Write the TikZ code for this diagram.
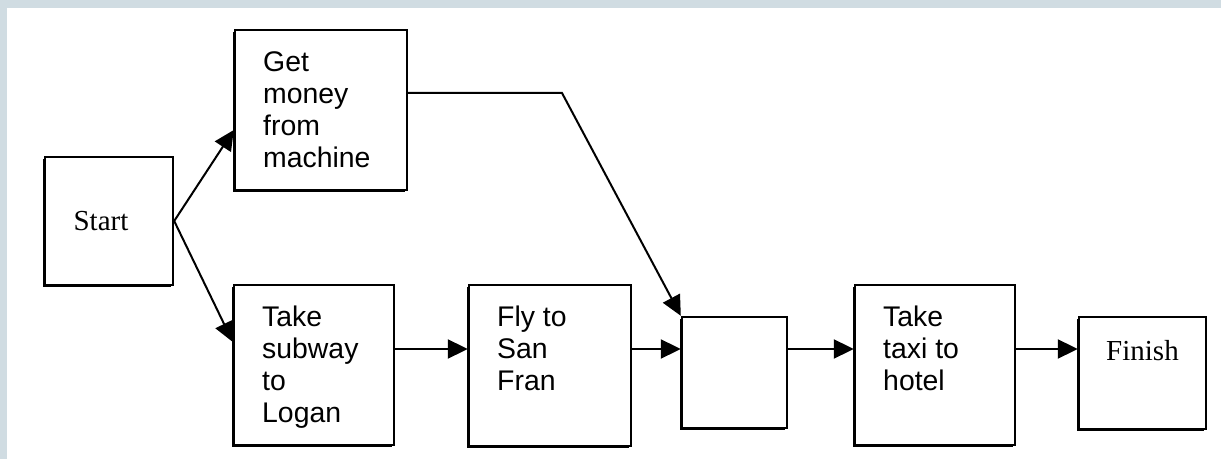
\documentclass[tikz,border=0pt]{standalone}
\usepackage{fontspec}
\setmainfont{Liberation Serif}
\setsansfont{Liberation Sans}
\usetikzlibrary{arrows.meta,shadows,calc,positioning}

\definecolor{framegray}{RGB}{208,220,226}

\tikzset{
  stepbox/.style={draw, line width=1.2pt, fill=white, inner sep=0pt,
    general shadow={fill=black, shadow xshift=-0.9pt, shadow yshift=-0.9pt}},
  boxtext/.style={font=\sffamily\fontsize{14.2}{16}\selectfont, align=left,
    inner sep=0pt, anchor=north west, xshift=14.5pt, yshift=-11pt},
  endtext/.style={font=\rmfamily\fontsize{14.5}{16}\selectfont, inner sep=0pt},
  flow/.style={-{Triangle[length=10pt,width=9.5pt]}, line width=1pt},
}

\begin{document}
\begin{tikzpicture}[x=0.5pt,y=-0.5pt]
  \fill[framegray] (0,0) rectangle (1221,459);
  \useasboundingbox (0,0) rectangle (1221,459);
  \fill[white] (7,8) rectangle (1221,459);

  \node[stepbox, minimum width=64pt, minimum height=64pt] (start) at (109,221) {};
  \node[stepbox, minimum width=86pt, minimum height=80pt] (money) at (321,110) {};
  \node[stepbox, minimum width=80pt, minimum height=80pt] (subway) at (314,365) {};
  \node[stepbox, minimum width=81pt, minimum height=80.5pt] (fly) at (550,365.5) {};
  \node[stepbox, minimum width=52.5pt, minimum height=55.5pt] (join) at (734.5,372.5) {};
  \node[stepbox, minimum width=80pt, minimum height=80pt] (taxi) at (935,365) {};
  \node[stepbox, minimum width=63.5pt, minimum height=56pt] (finish) at (1142.5,373) {};

  \node[endtext, xshift=-4pt] (start-t) at (start.center) {Start};
  \node[boxtext] (money-t) at (money.north west) {Get\\money\\from\\machine};
  \node[boxtext] (subway-t) at (subway.north west) {Take\\subway\\to\\Logan};
  \node[boxtext] (fly-t) at (fly.north west) {Fly to\\San\\Fran};
  \node[boxtext] (taxi-t) at (taxi.north west) {Take\\taxi to\\hotel};
  \node[endtext, anchor=north, yshift=-12pt] (finish-t) at (finish.north) {Finish};

  \coordinate (row) at (0,349);
  \coordinate (bend) at (562,93);

  \draw[flow] (start.east) -- ([yshift=-10pt]money.west);
  \draw[flow] (start.east) -- ([yshift=11.5pt]subway.west);
  \draw[flow] ([yshift=8.5pt]money.east) -- (bend) -- (join.north west);
  \draw[flow] (subway.east |- row) -- (fly.west |- row);
  \draw[flow] (fly.east |- row) -- (join.west |- row);
  \draw[flow] (join.east |- row) -- (taxi.west |- row);
  \draw[flow] (taxi.east |- row) -- (finish.west |- row);
\end{tikzpicture}
\end{document}
